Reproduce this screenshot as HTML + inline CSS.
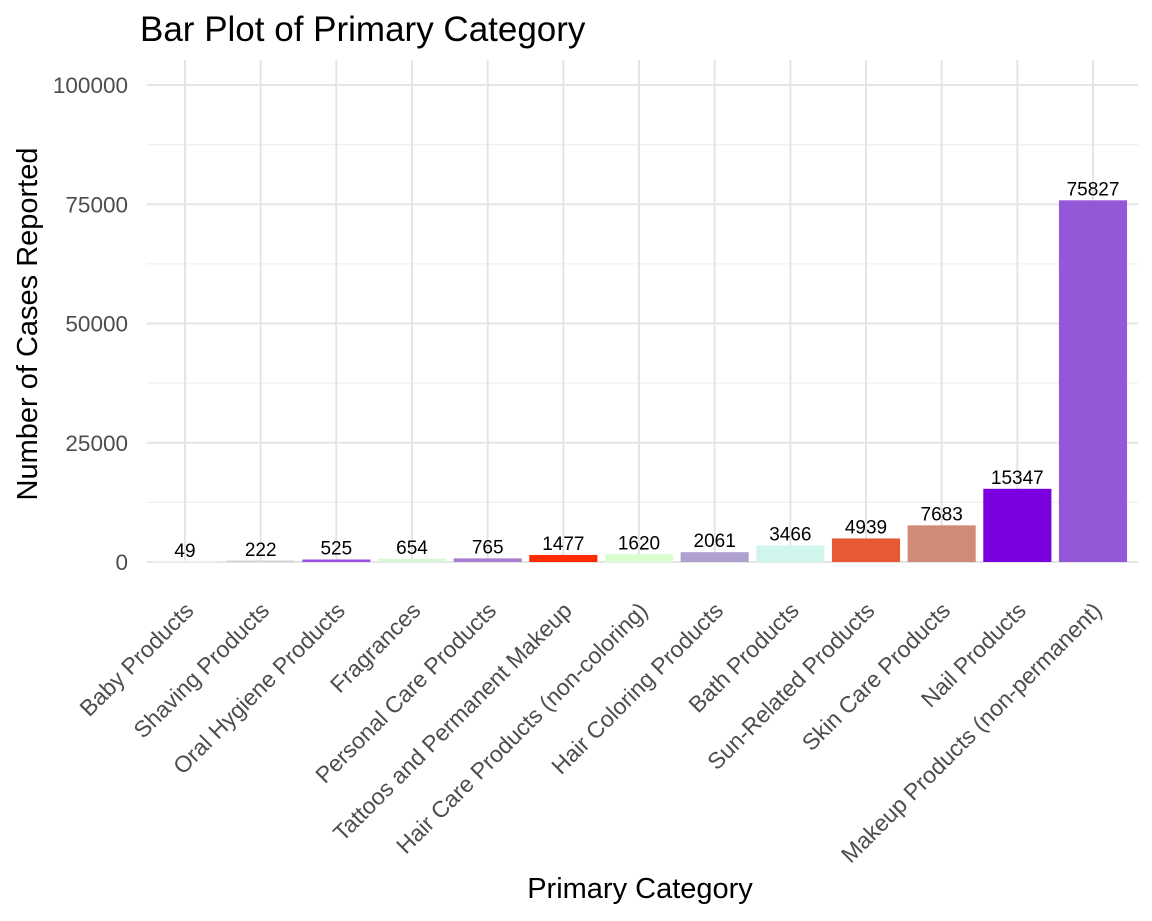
<!DOCTYPE html>
<html><head><meta charset="utf-8"><style>
body{margin:0;background:#fff;}
svg{display:block;font-family:"Liberation Sans",Arial,sans-serif;}
</style></head><body>
<svg id="chart" width="1152" height="921">
<text x="140" y="41" font-size="35" fill="#000">Bar Plot of Primary Category</text>
<g id="grid"></g><g id="bars"></g><g id="labels"></g><g id="axes"></g>
<text transform="translate(37,324) rotate(-90)" text-anchor="middle" font-size="29" fill="#000">Number of Cases Reported</text>
<text x="640" y="898" text-anchor="middle" font-size="29" fill="#000">Primary Category</text>
</svg>
<script>
const categories=["Baby Products","Shaving Products","Oral Hygiene Products","Fragrances","Personal Care Products","Tattoos and Permanent Makeup","Hair Care Products (non-coloring)","Hair Coloring Products","Bath Products","Sun-Related Products","Skin Care Products","Nail Products","Makeup Products (non-permanent)"];
const values=[49,222,525,654,765,1477,1620,2061,3466,4939,7683,15347,75827];
const colors=["#f4f4f8","#d3d3d3","#9b4fe0","#d8f8d8","#a77fd0","#ff2a00","#d8ffd0","#b0a0d0","#d0f5ec","#e85a35","#d08a78","#7b00e0","#9457d8"];
const yTicks=[0,25000,50000,75000,100000];
const NS="http://www.w3.org/2000/svg";
const L=147,R=1138,T=60,B=562;
const y=v=>B-v*477/100000;
const step=(1093-185)/(categories.length-1);
const x=i=>185+step*i;
function mk(t,a,p){const e=document.createElementNS(NS,t);for(const k in a)e.setAttribute(k,a[k]);p.appendChild(e);return e;}
const grid=document.getElementById('grid'),bars=document.getElementById('bars'),labels=document.getElementById('labels'),axes=document.getElementById('axes');
for(let k=0;k<yTicks.length;k++){
  const v=yTicks[k];
  const g=mk('line',{x1:L,x2:R,y1:y(v),y2:y(v),stroke:'#e5e5e5','stroke-width':2},grid);
  
  
  if(k<yTicks.length-1){const m=mk('line',{x1:L,x2:R,y1:y(v+12500),y2:y(v+12500),stroke:'#f0f0f0','stroke-width':1.2},grid);
  
  }
  const t=mk('text',{x:128,y:y(v)+8,'text-anchor':'end','font-size':22.5,fill:'#4d4d4d'},axes);
  t.textContent=v;
  
  
}
categories.forEach((c,i)=>{
  const xc=x(i);
  const g=mk('line',{x1:xc,x2:xc,y1:T,y2:B,stroke:'#e5e5e5','stroke-width':2},grid);
  
  
  const w=step*0.9,h=Math.max(values[i]*477/100000,1.5);
  const r=mk('rect',{x:xc-w/2,y:B-h,width:w,height:h,fill:colors[i]},bars);
  
  
  const vt=mk('text',{x:xc,y:y(values[i])-5,'text-anchor':'middle','font-size':19,fill:'#000'},labels);
  vt.textContent=values[i];
  
  
  const ax=xc+10,ay=612;
  const ct=mk('text',{x:ax,y:ay,'text-anchor':'end','font-size':23,fill:'#4d4d4d',transform:`rotate(-45 ${ax} ${ay})`},axes);
  ct.textContent=c;
  
  
});
</script>
</body></html>
